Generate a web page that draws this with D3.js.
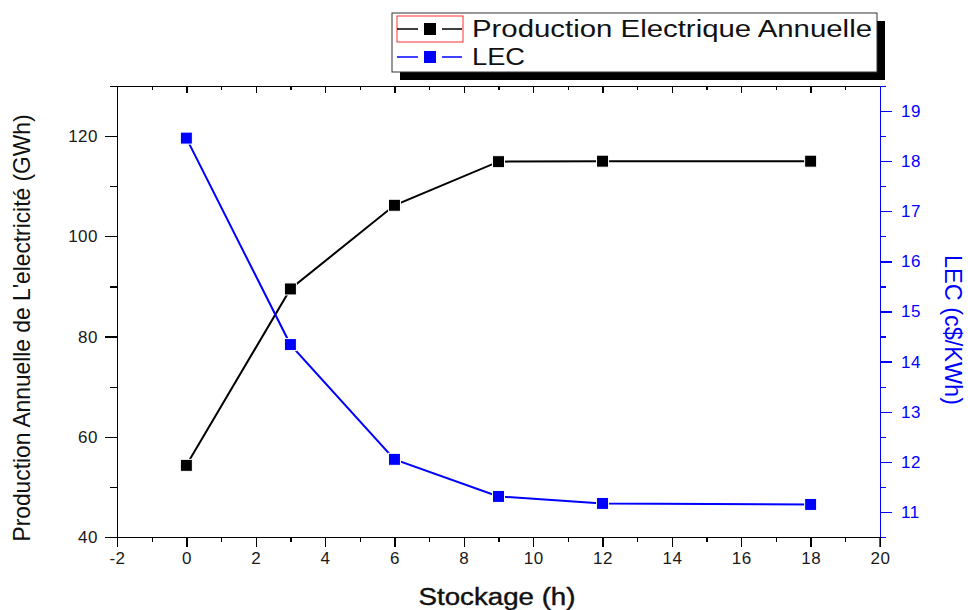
<!DOCTYPE html>
<html>
<head>
<meta charset="utf-8">
<script src="https://cdn.jsdelivr.net/npm/d3@7"></script>
<style>
  body { margin: 0; background: #fff; }
  svg text { font-family: "Liberation Sans", Arial, sans-serif; }
  .axis path, .axis line { shape-rendering: crispEdges; }
</style>
</head>
<body>
<div id="graphic"></div>
<script>
// stockage (h) vs annual production and LEC
const stockage = [0, 3, 6, 9, 12, 18];
const production = [54.3, 89.5, 106.2, 114.9, 115.0, 115.0];
const lec = [18.46, 14.34, 12.05, 11.31, 11.17, 11.15];

const xTicks = [-2, 0, 2, 4, 6, 8, 10, 12, 14, 16, 18, 20];
const xMinor = [-1, 1, 3, 5, 7, 9, 11, 13, 15, 17, 19];
const yLeftTicks = [40, 60, 80, 100, 120];
const yLeftMinor = [50, 70, 90, 110, 130];
const yRightTicks = [11, 12, 13, 14, 15, 16, 17, 18, 19];
const yRightMinor = [10.5, 11.5, 12.5, 13.5, 14.5, 15.5, 16.5, 17.5, 18.5, 19.5];

const legendLabels = ["Production Electrique Annuelle", "LEC"];
const legendColors = ["#000000", "#0000ff"];

const chart = {
  margin: { left: 117, right: 88, top: 86, bottom: 73 },
  outerWidth: 968,
  outerHeight: 610,
  parameters(){
    this.width = this.outerWidth - this.margin.left - this.margin.right;
    this.height = this.outerHeight - this.margin.top - this.margin.bottom;
  },
  createScales(){
    this.xScale = d3.scaleLinear().domain([-2, 20]).range([0, this.width]);
    this.yLeft = d3.scaleLinear().domain([40, 130]).range([this.height, 0]);
    this.yRight = d3.scaleLinear().domain([10.5, 19.5]).range([this.height, 0]);
  },
  drawPlot(){
    this.svg = d3.select("#graphic").append("svg")
      .attr("width", this.outerWidth)
      .attr("height", this.outerHeight);
    this.plot = this.svg.append("g")
      .attr("transform", `translate(${this.margin.left}, ${this.margin.top})`);
  },
  axisGroup(axis, cls, transform, color){
    const g = this.plot.append("g")
      .attr("class", "axis " + cls)
      .attr("transform", transform)
      .call(axis);
    g.selectAll("path, line").attr("stroke", color).attr("stroke-width", 1.3);
    g.selectAll("text").attr("fill", color === "#000" ? "#1a1a1a" : color)
      .style("font-size", "17px").style("letter-spacing", "0.5px");
    return g;
  },
  drawAxes(){
    const h = this.height, w = this.width;
    const plain = d => String(d);
    // bottom
    this.axisGroup(d3.axisBottom(this.xScale).tickValues(xMinor).tickSize(5).tickFormat("").tickSizeOuter(0),
      "xminor", `translate(0,${h})`, "#000");
    const xb = this.axisGroup(d3.axisBottom(this.xScale).tickValues(xTicks).tickSize(10).tickPadding(5).tickFormat(plain).tickSizeOuter(0),
      "xaxis", `translate(0,${h})`, "#000");
    xb.selectAll("text").attr("dy", "0.71em");
    // top (inward ticks)
    this.axisGroup(d3.axisBottom(this.xScale).tickValues(xMinor).tickSize(4).tickFormat("").tickSizeOuter(0),
      "xtop", "translate(0,0)", "#000");
    this.axisGroup(d3.axisBottom(this.xScale).tickValues(xTicks).tickSize(7).tickFormat("").tickSizeOuter(0),
      "xtop", "translate(0,0)", "#000");
    // left
    this.axisGroup(d3.axisLeft(this.yLeft).tickValues(yLeftMinor).tickSize(7).tickFormat("").tickSizeOuter(0),
      "yminor", "translate(0,0)", "#000");
    this.axisGroup(d3.axisLeft(this.yLeft).tickValues(yLeftTicks).tickSize(12).tickPadding(7).tickFormat(plain).tickSizeOuter(0),
      "yaxis", "translate(0,0)", "#000");
    // right
    this.axisGroup(d3.axisRight(this.yRight).tickValues(yRightMinor).tickSize(6).tickFormat("").tickSizeOuter(0),
      "yrminor", `translate(${w},0)`, "#0000ff");
    this.axisGroup(d3.axisRight(this.yRight).tickValues(yRightTicks).tickSize(12).tickPadding(9).tickFormat(plain).tickSizeOuter(0),
      "yraxis", `translate(${w},0)`, "#0000ff");
    // black corner tick at x=20
    this.plot.append("line")
      .attr("x1", this.xScale(20)).attr("x2", this.xScale(20))
      .attr("y1", h).attr("y2", h + 10)
      .attr("stroke", "#000").attr("stroke-width", 1.3);

    // titles
    this.svg.append("text")
      .attr("transform", `translate(30, 328) rotate(-90)`)
      .attr("text-anchor", "middle")
      .attr("textLength", 427).attr("lengthAdjust", "spacingAndGlyphs")
      .style("font-size", "24px").attr("fill", "#111")
      .text("Production Annuelle de L'electricité (GWh)");
    this.svg.append("text")
      .attr("transform", `translate(945, 330) rotate(90)`)
      .attr("text-anchor", "middle")
      .attr("textLength", 150).attr("lengthAdjust", "spacingAndGlyphs")
      .style("font-size", "23px").attr("fill", "#0000ff")
      .text("LEC (c$/KWh)");
    this.svg.append("text")
      .attr("x", 497).attr("y", 605)
      .attr("text-anchor", "middle")
      .attr("textLength", 157).attr("lengthAdjust", "spacingAndGlyphs")
      .style("font-size", "23px").attr("fill", "#111")
      .attr("stroke", "#111").attr("stroke-width", 0.4)
      .text("Stockage (h)");
  },
  drawSeries(values, scale, color){
    const that = this;
    const pts = stockage.map((s, i) => [s, values[i]]);
    const line = d3.line()
      .x(d => that.xScale(d[0]))
      .y(d => scale(d[1]));
    this.plot.append("path")
      .datum(pts)
      .attr("fill", "none")
      .attr("stroke", color)
      .attr("stroke-width", 2)
      .attr("d", line);
    this.plot.append("g").selectAll("rect")
      .data(pts)
      .enter().append("rect")
      .attr("x", d => that.xScale(d[0]) - 6)
      .attr("y", d => scale(d[1]) - 6)
      .attr("width", 12).attr("height", 12)
      .attr("fill", color)
      .attr("stroke", "#fff").attr("stroke-width", 1);
  },
  drawData(){
    this.drawSeries(production, this.yLeft, "#000000");
    this.drawSeries(lec, this.yRight, "#0000ff");
  },
  drawLegend(){
    const lg = this.svg.append("g").attr("transform", "translate(392,13)");
    // shadow
    lg.append("rect").attr("x", 8).attr("y", 8).attr("width", 485).attr("height", 59).attr("fill", "#000");
    lg.append("rect").attr("x", 0).attr("y", 0).attr("width", 485).attr("height", 59)
      .attr("fill", "#fff").attr("stroke", "#333").attr("stroke-width", 1);
    lg.append("rect").attr("x", 5).attr("y", 3).attr("width", 66).attr("height", 26)
      .attr("fill", "none").attr("stroke", "#ff3030").attr("stroke-width", 1);
    const rows = lg.selectAll("g.row")
      .data(legendLabels)
      .enter().append("g")
      .attr("class", "row")
      .attr("transform", (d, i) => `translate(0, ${16 + i * 28})`);
    rows.append("line").attr("x1", 5).attr("x2", 26).attr("y1", 0).attr("y2", 0)
      .attr("stroke", (d, i) => legendColors[i]).attr("stroke-width", 1.5);
    rows.append("line").attr("x1", 50).attr("x2", 70).attr("y1", 0).attr("y2", 0)
      .attr("stroke", (d, i) => legendColors[i]).attr("stroke-width", 1.5);
    rows.append("rect").attr("x", 32).attr("y", -6).attr("width", 12).attr("height", 12)
      .attr("fill", (d, i) => legendColors[i]);
    rows.append("text").attr("x", 80).attr("y", 8)
      .attr("textLength", (d, i) => i === 0 ? 400 : 53)
      .attr("lengthAdjust", "spacingAndGlyphs")
      .style("font-size", "23px").attr("fill", "#111")
      .text(d => d);
  },
  draw(){
    this.parameters();
    this.createScales();
    this.drawPlot();
    this.drawAxes();
    this.drawData();
    this.drawLegend();
  }
};

chart.draw();
</script>
</body>
</html>
